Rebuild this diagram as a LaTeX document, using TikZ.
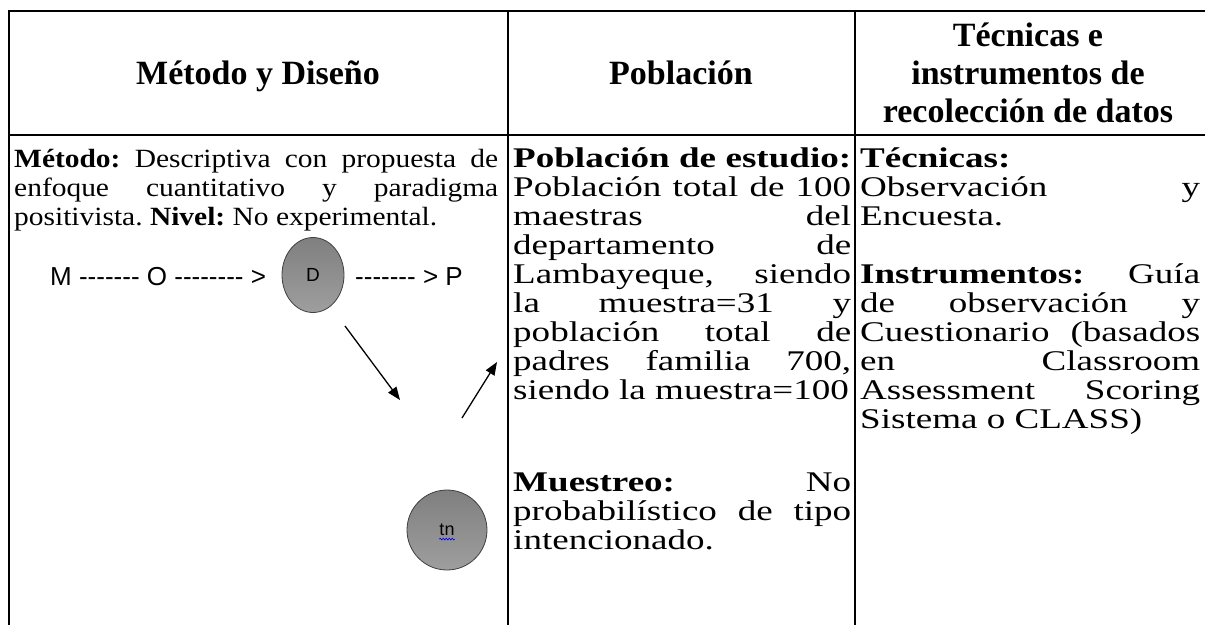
\documentclass[tikz,border=0pt]{standalone}
\usepackage{fontspec}
\setmainfont{Liberation Serif}
\newfontfamily\widefont[FakeStretch=1.3]{Liberation Serif}
\newfontfamily\midfont[FakeStretch=1.12]{Liberation Serif}
\newfontfamily\arialfont{Liberation Sans}
\usetikzlibrary{arrows.meta,shapes.geometric,decorations.pathmorphing}
\frenchspacing

% a row of single hyphens (no dash ligatures)
\newcommand\dsh[1]{\foreach \i in {1,...,#1}{-\kern0pt}}

\begin{document}
\begin{tikzpicture}[x=1pt,y=-1pt,
    rule/.style={line width=2.4pt},
    head/.style={font=\fontsize{34}{38}\selectfont\bfseries,align=center,inner sep=0pt},
    cell/.style={font=\widefont\fontsize{28.5}{29}\selectfont,align=justify,inner sep=0pt,anchor=base west},
    sans/.style={font=\arialfont\fontsize{26}{30}\selectfont,inner sep=0pt,anchor=base west},
    ball/.style={draw=black!75,line width=0.8pt,top color=black!50,bottom color=black!38,inner sep=0pt},
    arr/.style={line width=1.3pt,-{Triangle[length=13pt,width=10pt]}}]
    \useasboundingbox (0,0) rectangle (1205,625);

    % table rules
    \draw[rule] (9,625) -- (9,11) -- (1205,11);
    \draw[rule] (9,135) -- (1205,135);
    \draw[rule] (508,11) -- (508,625);
    \draw[rule] (855,11) -- (855,625);

    % header row
    \node[head,anchor=base] (H1) at (258,84) {Método y Diseño};
    \node[head,anchor=base] (H2) at (681,84) {Población};
    \node[head] (H3) at (1028,72.5) {Técnicas e\\instrumentos de\\recolección de datos};

    % first column
    \node[cell,font=\midfont\fontsize{26.3}{29}\selectfont,text width=484] (B1) at (14,167)
        {\textbf{Método:} Descriptiva con propuesta de\linebreak enfoque cuantitativo y paradigma\linebreak positivista. \textbf{Nivel:} No experimental.};

    % second column
    \node[cell,text width=338] (B2) at (513,167)
        {\textbf{Población de estudio:}\linebreak Población total de 100\linebreak maestras del\linebreak departamento de\linebreak Lambayeque, siendo\linebreak la muestra=31 y\linebreak población total de\linebreak padres familia 700,\linebreak siendo la muestra=100};
    \node[cell,text width=338] (B3) at (513,491)
        {\textbf{Muestreo:} No\linebreak probabilístico de tipo\linebreak intencionado.};

    % third column
    \node[cell,text width=340] (B4) at (860,167)
        {\textbf{Técnicas:}\\ Observación y\linebreak Encuesta.};
    \node[cell,text width=340] (B5) at (860,283)
        {\textbf{Instrumentos:} Guía\linebreak de observación y\linebreak Cuestionario (basados\linebreak en Classroom\linebreak Assessment Scoring\linebreak Sistema o CLASS)};

    % design scheme
    \node[sans] (MO) at (50,285) {M \dsh{7} O \dsh{8} >};
    \node[ball,shape=ellipse,minimum width=62,minimum height=75] (D) at (313,275)
        {\arialfont\fontsize{19}{21}\selectfont D};
    \node[sans] (DP) at (355,285) {\dsh{7} > P};
    \node[ball,circle,minimum size=80] (T) at (447,530) {};
    \node[font=\arialfont\fontsize{18}{20}\selectfont,inner sep=0pt] (tn) at (T.center) {tn};
    \draw[blue,line width=0.6pt,decorate,decoration={snake,amplitude=0.9pt,segment length=3pt}]
        ([yshift=-3pt]tn.south west) -- ([yshift=-3pt]tn.south east);

    \coordinate (a1s) at (345,326);
    \coordinate (a1e) at (400,400);
    \coordinate (a2s) at (462,418);
    \coordinate (a2e) at (497,362);
    \draw[arr] (a1s) -- (a1e);
    \draw[arr] (a2s) -- (a2e);
\end{tikzpicture}
\end{document}
